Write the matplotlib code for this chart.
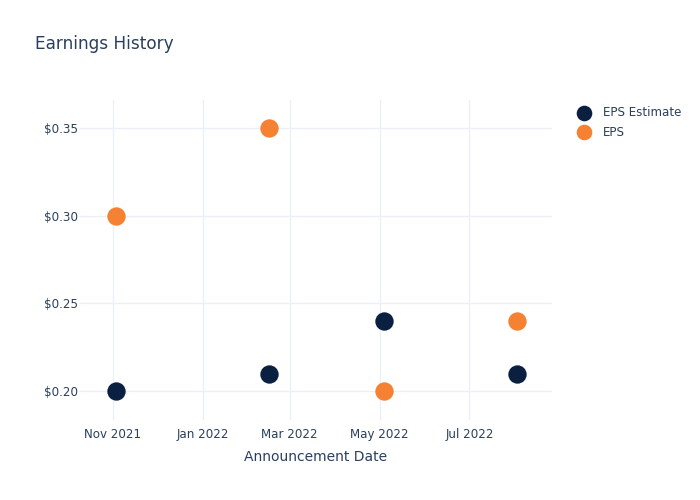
import matplotlib.pyplot as plt
import matplotlib.dates as mdates
from datetime import datetime

# data
dates = ['2021-11-03', '2022-02-15', '2022-05-04', '2022-08-02']
eps_estimate = [0.20, 0.21, 0.24, 0.21]
eps_actual = [0.30, 0.35, 0.20, 0.24]

x = [datetime.strptime(d, '%Y-%m-%d') for d in dates]
text_col = '#2a3f5f'
grid_col = '#ebf0f8'

fig = plt.figure(figsize=(7, 5), dpi=100)
ax = fig.add_axes([79 / 700, 0.16, 473 / 700, 0.64])

ax.scatter(x, eps_estimate, s=175, color='#0b1f40', label='EPS Estimate', zorder=3, linewidths=0)
ax.scatter(x, eps_actual, s=175, color='#f58233', label='EPS', zorder=3, linewidths=0)

ax.set_xlim(datetime(2021, 10, 9), datetime(2022, 8, 26))
ax.set_ylim(0.1835, 0.366)
ax.set_yticks([0.20, 0.25, 0.30, 0.35])
ax.set_yticklabels(['$0.20', '$0.25', '$0.30', '$0.35'])
ax.xaxis.set_major_locator(mdates.MonthLocator(bymonth=[1, 3, 5, 7, 11]))
ax.xaxis.set_major_formatter(mdates.DateFormatter('%b %Y'))

ax.grid(True, color=grid_col, linewidth=1)
ax.set_axisbelow(True)
for s in ax.spines.values():
    s.set_visible(False)
ax.tick_params(length=0, labelsize=8.6, labelcolor=text_col)
ax.tick_params(axis='x', pad=6)
ax.tick_params(axis='y', pad=1)

ax.set_xlabel('Announcement Date', fontsize=10, color=text_col, labelpad=6)
fig.text(35 / 700, 1 - 44 / 500, 'Earnings History', fontsize=12.2, color=text_col, va='center')

leg = ax.legend(loc='upper left', bbox_to_anchor=(1.02, 1.015), frameon=False,
                fontsize=8.6, labelcolor=text_col, handletextpad=0.6,
                labelspacing=0.55, markerscale=0.85)

plt.savefig('out.png', dpi=100)
